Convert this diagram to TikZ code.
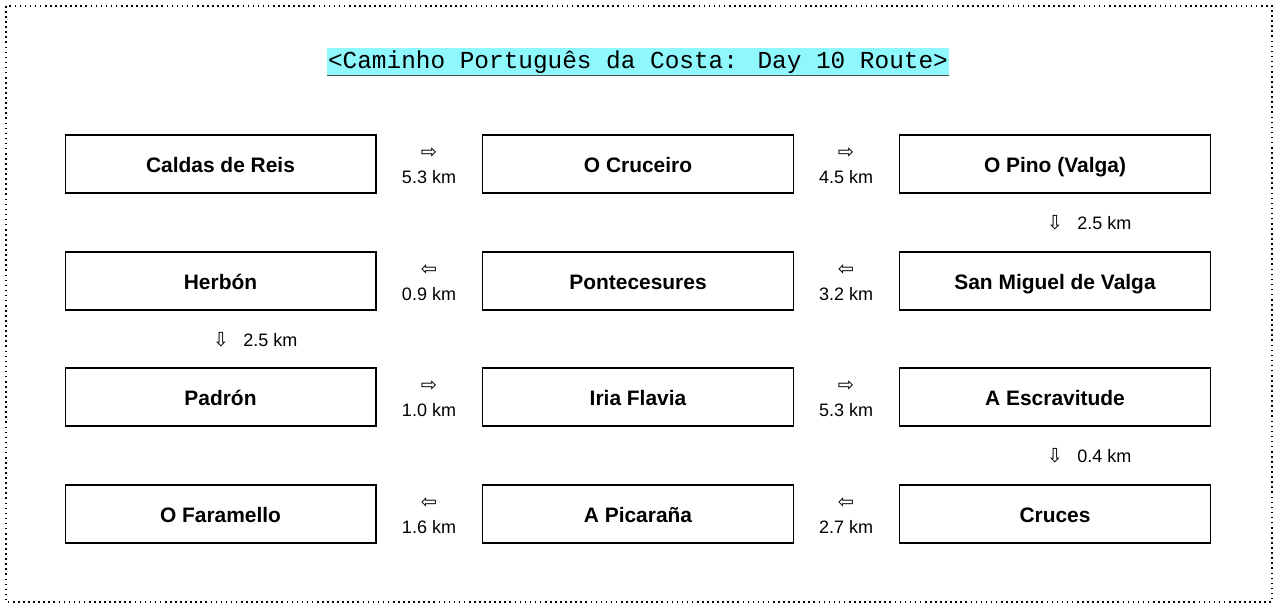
\documentclass[tikz,border=0pt]{standalone}
\usepackage{fontspec}
\setmainfont{Liberation Sans}
\newfontfamily\titlefont{Liberation Mono}
\newfontfamily\arrowfont{DejaVu Sans}
\usetikzlibrary{positioning}
\definecolor{titlehl}{HTML}{8EF8FD}

\begin{document}
\begin{tikzpicture}[x=0.75pt, y=-0.75pt,
    stop/.style={draw, line width=1pt, minimum width=233pt, minimum height=43.5pt, inner sep=0pt,
        text height=13pt, text depth=0pt, font=\fontsize{15.7}{18}\selectfont\bfseries},
    dist/.style={font=\fontsize{13.5}{16}\selectfont, inner sep=0pt},
    arr/.style={font=\arrowfont\fontsize{14.5}{16}\selectfont, inner sep=0pt}]
    \useasboundingbox (0,0) rectangle (1280,611);
    \draw[line width=0.9pt, dash pattern=on 1.2pt off 2.6pt] (6,6) rectangle (1272,602);

    % Title
    \node[fill=titlehl, inner xsep=0.5pt, inner ysep=0pt, text height=15.3pt, text depth=4.8pt,
        font=\titlefont\fontsize{18.3}{20}\selectfont] (title) at (638,61.5)
        {<Caminho Português da Costa: Day 10 Route>};
    \draw[line width=0.8pt, black!70] (title.south west) -- (title.south east);

    % Stops
    \foreach \nm/\x/\y/\txt in {caldas/220.5/164/Caldas de Reis, cruceiro/638/164/O Cruceiro,
        pino/1055/164/O Pino (Valga), sanmiguel/1055/281/San Miguel de Valga,
        pontecesures/638/281/Pontecesures, herbon/220.5/281/Herbón,
        padron/220.5/397/Padrón, iria/638/397/Iria Flavia, escravitude/1055/397/A Escravitude,
        cruces/1055/514/Cruces, picarana/638/514/A Picaraña, faramello/220.5/514/O Faramello} {
        \node[stop] (\nm) at (\x,\y) {\txt};
    }

    % Distances between columns
    \foreach \nm/\x/\y/\glyph/\km in {h1/429/164/⇨/5.3, h2/846/164/⇨/4.5,
        h3/846/281/⇦/3.2, h4/429/281/⇦/0.9,
        h5/429/397/⇨/1.0, h6/846/397/⇨/5.3,
        h7/846/514/⇦/2.7, h8/429/514/⇦/1.6} {
        \node[arr] (\nm a) at (\x,\y-11) {\glyph};
        \node[dist] (\nm k) at (\x,\y+13) {\km\ km};
    }

    % Distances between rows
    \node[arr] (v1a) at (1055,223) {⇩};
    \node[dist, anchor=west] (v1k) at (1077,223) {2.5 km};
    \node[arr] (v2a) at (221,340) {⇩};
    \node[dist, anchor=west] (v2k) at (243,340) {2.5 km};
    \node[arr] (v3a) at (1055,456) {⇩};
    \node[dist, anchor=west] (v3k) at (1077,456) {0.4 km};
\end{tikzpicture}
\end{document}
